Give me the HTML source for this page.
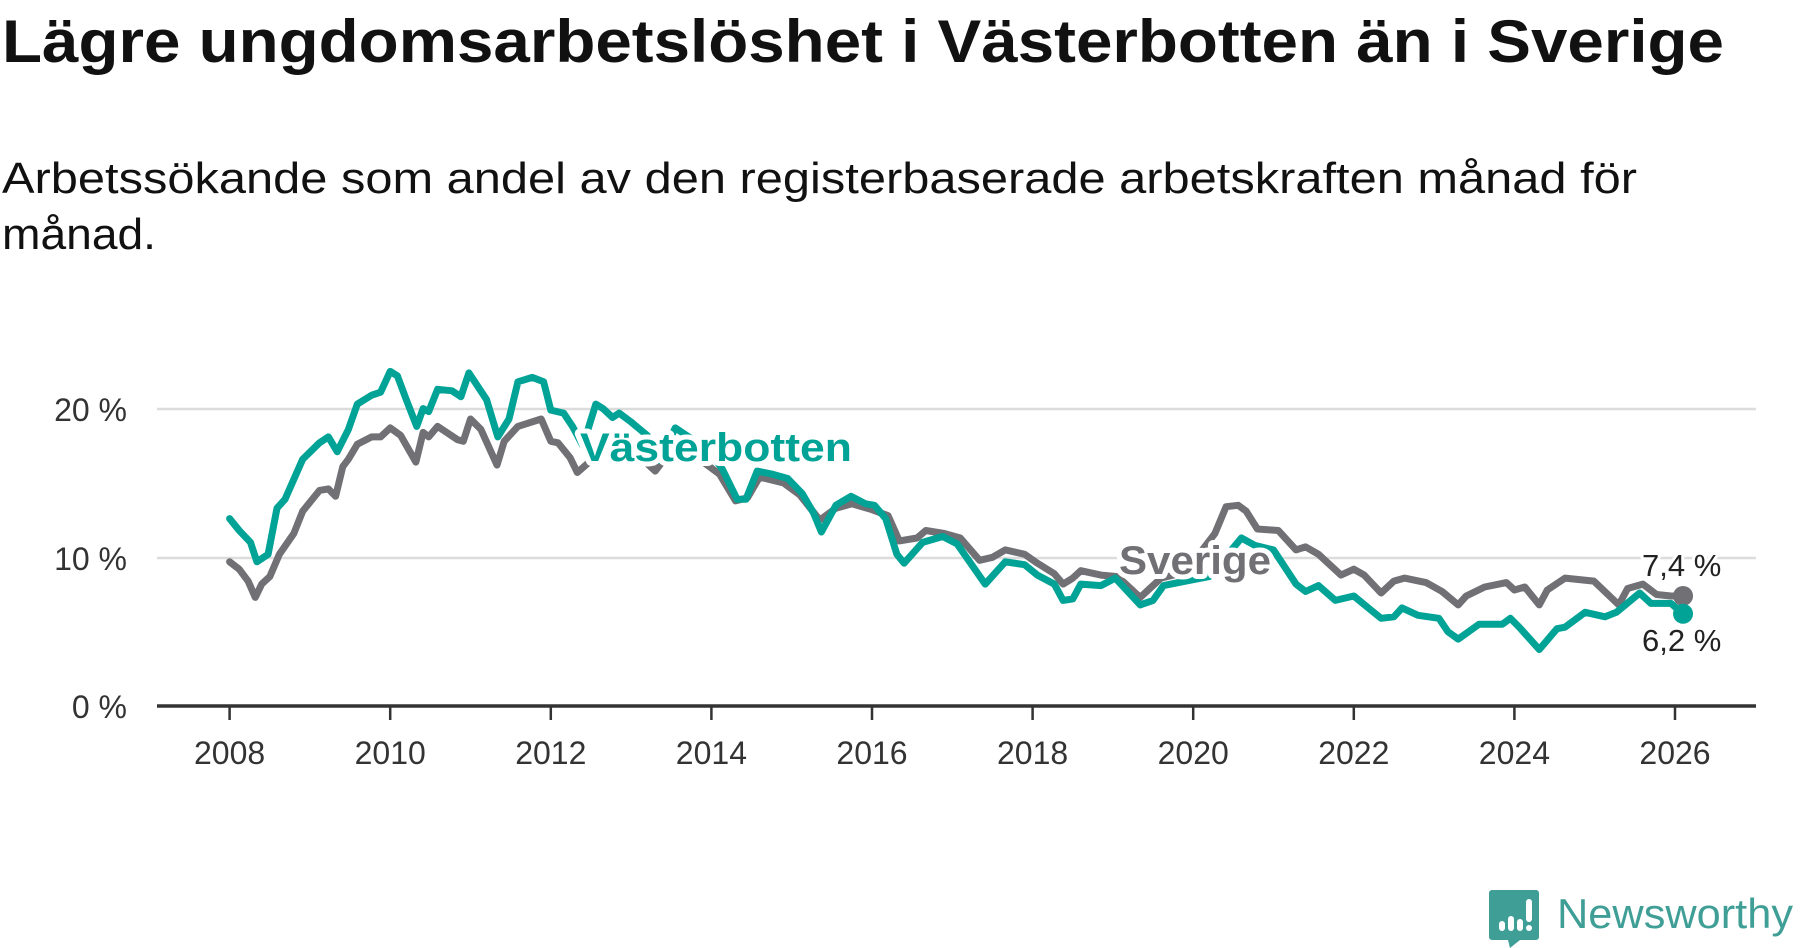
<!DOCTYPE html>
<html><head><meta charset="utf-8"><style>
html,body{margin:0;padding:0;background:#fff;width:1800px;height:948px;overflow:hidden}
svg{display:block}
text{font-family:"Liberation Sans",sans-serif}
</style></head><body>
<svg id="s" width="1800" height="948" viewBox="0 0 1800 948" xmlns="http://www.w3.org/2000/svg">
<text x="2" y="62" font-size="60" font-weight="bold" fill="#111" textLength="1722" lengthAdjust="spacingAndGlyphs">Lägre ungdomsarbetslöshet i Västerbotten än i Sverige</text>
<text x="2" y="193" font-size="44" fill="#111" textLength="1635" lengthAdjust="spacingAndGlyphs">Arbetssökande som andel av den registerbaserade arbetskraften månad för</text>
<text x="2" y="249" font-size="44" fill="#111" textLength="154" lengthAdjust="spacingAndGlyphs">månad.</text>
<line x1="157" x2="1756" y1="409" y2="409" stroke="#dcdcdc" stroke-width="2.5"/>
<line x1="157" x2="1756" y1="558" y2="558" stroke="#dcdcdc" stroke-width="2.5"/>
<g font-size="32" fill="#333" text-anchor="end">
<text x="127" y="421">20 %</text><text x="127" y="570">10 %</text><text x="127" y="718">0 %</text>
</g>
<g id="ticks" stroke="#333" stroke-width="2.5"></g>
<g id="yl" font-size="32" fill="#333" text-anchor="middle"></g>
<g id="lines" fill="none" stroke-width="7" stroke-linejoin="round" stroke-linecap="round"></g>
<line x1="157" x2="1756" y1="706" y2="706" stroke="#333" stroke-width="3.5"/>
<g font-size="40" font-weight="bold" stroke="#fff" stroke-width="10" stroke-linejoin="round" paint-order="stroke">
<text x="580" y="461" fill="#00a396" textLength="272" lengthAdjust="spacingAndGlyphs">Västerbotten</text>
<text x="1119" y="574" fill="#707075" textLength="152" lengthAdjust="spacingAndGlyphs">Sverige</text>
</g>
<g font-size="31" fill="#222" stroke="#fff" stroke-width="6" paint-order="stroke" stroke-linejoin="round">
<text x="1642" y="576">7,4 %</text>
<text x="1642" y="651">6,2 %</text>
</g>
<g>
<path d="M1492 890 h44 a3 3 0 0 1 3 3 v44 a3 3 0 0 1 -3 3 h-16 l-10 8 l-2 -8 h-16 a3 3 0 0 1 -3 -3 v-44 a3 3 0 0 1 3 -3z" fill="#3f9e96"/>
<rect x="1499" y="921" width="6" height="10" rx="3" fill="#fff"/>
<rect x="1508" y="916" width="6" height="15" rx="3" fill="#fff"/>
<rect x="1517" y="919" width="6" height="12" rx="3" fill="#fff"/>
<rect x="1526" y="899" width="6" height="23" rx="3" fill="#fff"/>
<circle cx="1529" cy="928" r="3" fill="#fff"/>
<text x="1557" y="928" font-size="42" fill="#3f9e96" textLength="236" lengthAdjust="spacingAndGlyphs">Newsworthy</text>
</g>
</svg>
<script>
var X=function(y){return 229.6+(y-2008)*80.3},Y=function(v){return 706-v*14.87};
var NS="http://www.w3.org/2000/svg";
var tk=document.getElementById('ticks'),yl=document.getElementById('yl');
for(var y=2008;y<=2026;y+=2){var l=document.createElementNS(NS,'line');l.setAttribute('x1',X(y));l.setAttribute('x2',X(y));l.setAttribute('y1',706);l.setAttribute('y2',720);tk.appendChild(l);
var t=document.createElementNS(NS,'text');t.setAttribute('x',X(y));t.setAttribute('y',764);t.textContent=y;yl.appendChild(t);}
var gray=[[2008,9.7],[2008.12,9.2],[2008.23,8.4],[2008.32,7.3],[2008.4,8.2],[2008.5,8.7],[2008.62,10.2],[2008.8,11.6],[2008.91,13.1],[2009.12,14.5],[2009.23,14.6],[2009.32,14.1],[2009.41,16.1],[2009.48,16.6],[2009.59,17.6],[2009.77,18.1],[2009.88,18.1],[2010,18.7],[2010.13,18.2],[2010.32,16.4],[2010.41,18.4],[2010.48,18.1],[2010.59,18.8],[2010.84,17.9],[2010.91,17.8],[2011,19.3],[2011.13,18.6],[2011.33,16.2],[2011.42,17.8],[2011.59,18.8],[2011.88,19.3],[2012,17.8],[2012.09,17.7],[2012.24,16.7],[2012.33,15.7],[2012.5,16.5],[2012.75,17.5],[2013,17.3],[2013.3,15.8],[2013.5,17.2],[2013.8,16.8],[2014.1,15.6],[2014.3,13.8],[2014.45,14],[2014.6,15.4],[2014.9,15],[2015.1,14.2],[2015.35,12.5],[2015.55,13.3],[2015.75,13.6],[2016,13.2],[2016.2,12.8],[2016.34,11.1],[2016.56,11.3],[2016.67,11.8],[2016.9,11.6],[2017.1,11.3],[2017.34,9.8],[2017.5,10],[2017.66,10.5],[2017.9,10.2],[2018.06,9.6],[2018.27,8.9],[2018.38,8.2],[2018.5,8.6],[2018.6,9.1],[2018.85,8.8],[2019.06,8.7],[2019.34,7.3],[2019.6,8.6],[2019.9,9],[2020.27,11.6],[2020.41,13.4],[2020.56,13.5],[2020.66,13.1],[2020.8,11.9],[2021.06,11.8],[2021.28,10.5],[2021.4,10.7],[2021.56,10.2],[2021.84,8.8],[2022,9.2],[2022.13,8.8],[2022.34,7.6],[2022.5,8.4],[2022.63,8.6],[2022.9,8.3],[2023.1,7.7],[2023.3,6.8],[2023.4,7.4],[2023.63,8],[2023.9,8.3],[2024,7.8],[2024.13,8],[2024.31,6.8],[2024.41,7.8],[2024.63,8.6],[2024.99,8.4],[2025.3,6.8],[2025.41,7.9],[2025.6,8.2],[2025.77,7.5],[2025.95,7.4],[2026.1,7.4]];
var teal=[[2008,12.6],[2008.12,11.8],[2008.26,11],[2008.34,9.7],[2008.48,10.2],[2008.59,13.3],[2008.69,13.9],[2008.91,16.6],[2009.12,17.7],[2009.23,18.1],[2009.34,17.1],[2009.48,18.6],[2009.59,20.3],[2009.77,20.9],[2009.88,21.1],[2010,22.5],[2010.09,22.2],[2010.2,20.6],[2010.33,18.8],[2010.41,20],[2010.48,19.8],[2010.59,21.3],[2010.77,21.2],[2010.88,20.8],[2010.98,22.4],[2011.2,20.6],[2011.34,18.1],[2011.48,19.3],[2011.59,21.8],[2011.77,22.1],[2011.91,21.8],[2012,19.9],[2012.16,19.7],[2012.27,18.8],[2012.4,17.5],[2012.56,20.3],[2012.65,20],[2012.77,19.4],[2012.85,19.7],[2013,19.1],[2013.2,18.2],[2013.35,16.5],[2013.55,18.7],[2013.8,17.8],[2014,17],[2014.14,15.9],[2014.32,13.9],[2014.43,13.9],[2014.57,15.8],[2014.75,15.6],[2014.95,15.3],[2015.13,14.3],[2015.27,13],[2015.37,11.7],[2015.55,13.5],[2015.74,14.1],[2015.92,13.6],[2016.03,13.5],[2016.17,12.6],[2016.31,10.2],[2016.4,9.6],[2016.63,11],[2016.88,11.4],[2017.06,10.9],[2017.41,8.2],[2017.66,9.7],[2017.9,9.5],[2018.06,8.8],[2018.27,8.2],[2018.38,7.1],[2018.5,7.2],[2018.6,8.2],[2018.85,8.1],[2019.03,8.6],[2019.34,6.8],[2019.5,7.1],[2019.63,8.1],[2019.91,8.4],[2020.2,8.7],[2020.6,11.3],[2020.77,10.8],[2021,10.5],[2021.28,8.2],[2021.4,7.7],[2021.56,8.1],[2021.77,7.1],[2022,7.4],[2022.18,6.6],[2022.34,5.9],[2022.5,6],[2022.6,6.6],[2022.8,6.1],[2023.06,5.9],[2023.17,5],[2023.3,4.5],[2023.56,5.5],[2023.85,5.5],[2023.95,5.9],[2024.06,5.3],[2024.31,3.8],[2024.53,5.2],[2024.63,5.3],[2024.88,6.3],[2025.13,6],[2025.27,6.3],[2025.56,7.6],[2025.7,6.9],[2025.95,6.9],[2026.1,6.2]];
var g=document.getElementById('lines');
function draw(d,c){var p=document.createElementNS(NS,'polyline');p.setAttribute('points',d.map(function(a){return X(a[0]).toFixed(1)+','+Y(a[1]).toFixed(1)}).join(' '));p.setAttribute('stroke',c);g.appendChild(p);
var e=d[d.length-1];var ci=document.createElementNS(NS,'circle');ci.setAttribute('cx',X(e[0]));ci.setAttribute('cy',Y(e[1]));ci.setAttribute('r',10);ci.setAttribute('fill',c);g.appendChild(ci);}
draw(gray,'#707075');draw(teal,'#00a396');
</script>
</body></html>
